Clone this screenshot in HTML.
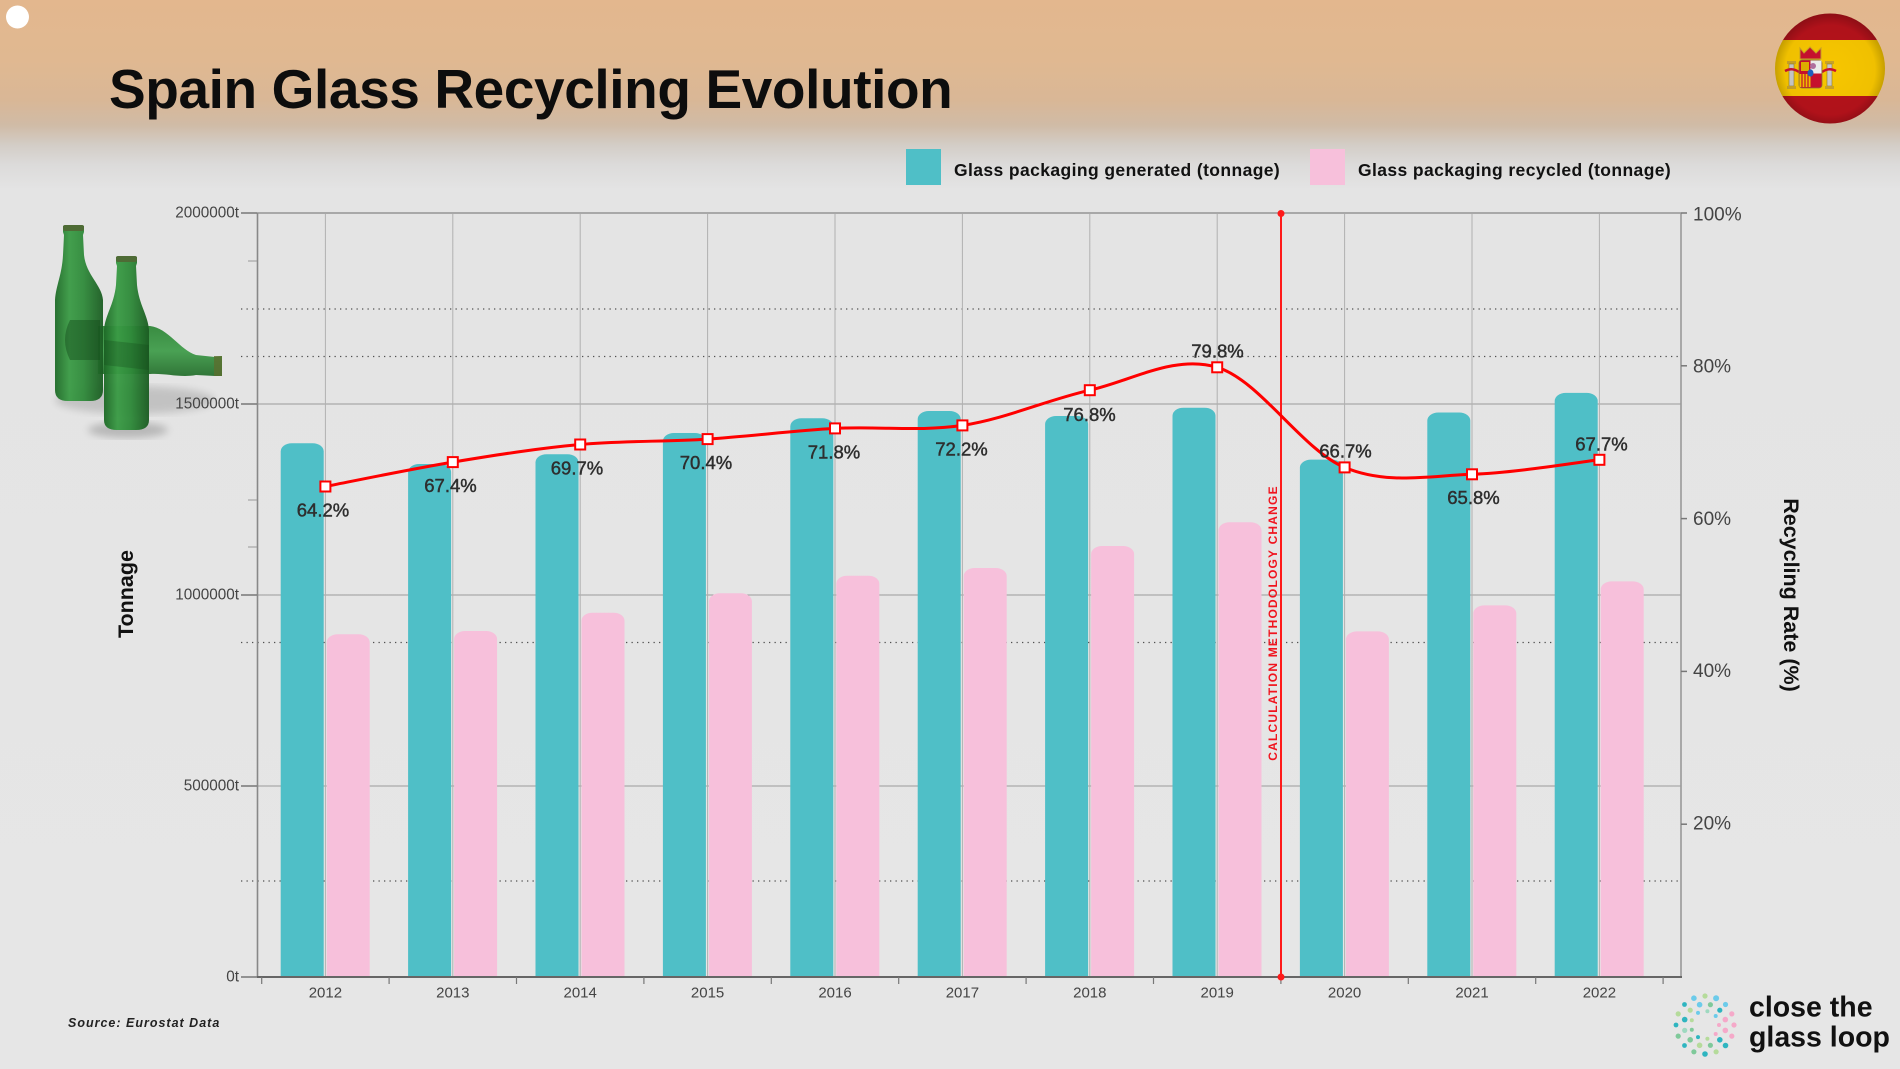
<!DOCTYPE html>
<html>
<head>
<meta charset="utf-8">
<style>
  html,body{margin:0;padding:0;}
  body{width:1900px;height:1069px;overflow:hidden;
    background:linear-gradient(to bottom,#E3B78E 0px,#E0B891 60px,#D9B796 100px,#D0BBA6 125px,#D3CDC6 145px,#DCDBDA 165px,#E4E4E4 190px,#E6E6E6 100%);
    font-family:"Liberation Sans",Arial,sans-serif;}
  svg{position:absolute;left:0;top:0;}
</style>
</head>
<body>
<svg width="1900" height="1069" viewBox="0 0 1900 1069" xmlns="http://www.w3.org/2000/svg" font-family="Liberation Sans, Arial, sans-serif">
  <defs>
    <clipPath id="plotclip"><rect x="0" y="0" width="1900" height="977"/></clipPath>
    <clipPath id="flagclip"><circle cx="1830" cy="68.5" r="55"/></clipPath>
    <radialGradient id="flagshade" cx="50%" cy="50%" r="50%">
      <stop offset="0%" stop-color="#000" stop-opacity="0"/>
      <stop offset="75%" stop-color="#000" stop-opacity="0.03"/>
      <stop offset="100%" stop-color="#000" stop-opacity="0.28"/>
    </radialGradient>
    <linearGradient id="glassH" x1="0" y1="0" x2="1" y2="0">
      <stop offset="0" stop-color="#1E6A27"/>
      <stop offset="0.3" stop-color="#3A9B45"/>
      <stop offset="0.6" stop-color="#2F8A3A"/>
      <stop offset="1" stop-color="#1B5C22"/>
    </linearGradient>
    <linearGradient id="glassV" x1="0" y1="0" x2="0" y2="1">
      <stop offset="0" stop-color="#2A8433"/>
      <stop offset="0.5" stop-color="#3C9B47"/>
      <stop offset="1" stop-color="#216C29"/>
    </linearGradient>
    <filter id="blur4"><feGaussianBlur stdDeviation="4"/></filter>
  </defs>

  <!-- top-left white dot -->
  <circle cx="17.5" cy="17" r="11.5" fill="#ffffff"/>

  <!-- Title -->
  <text x="109" y="108" font-size="55" font-weight="bold" fill="#0d0d0d" letter-spacing="-0.4">Spain Glass Recycling Evolution</text>

  <!-- Flag -->
  <g clip-path="url(#flagclip)">
    <rect x="1770" y="10" width="120" height="31" fill="#B5121B"/>
    <rect x="1770" y="40" width="120" height="57" fill="#F7C600"/>
    <rect x="1770" y="96" width="120" height="32" fill="#B5121B"/>
    <rect x="1787" y="61" width="9" height="3" fill="#C9A227"/>
    <rect x="1789" y="64" width="5" height="22" fill="#C8C8C8" stroke="#8a7a30" stroke-width="0.6"/>
    <rect x="1787" y="86" width="9" height="3" fill="#C9A227"/>
    <rect x="1825" y="61" width="9" height="3" fill="#C9A227"/>
    <rect x="1827" y="64" width="5" height="22" fill="#C8C8C8" stroke="#8a7a30" stroke-width="0.6"/>
    <rect x="1825" y="86" width="9" height="3" fill="#C9A227"/>
    <path d="M1785,71 Q1792,67 1799,72 M1822,72 Q1829,67 1836,71" stroke="#C8102E" stroke-width="2.5" fill="none"/>
    <path d="M1800,48 L1804,53 L1810,47 L1816,53 L1821,48 L1821,59 L1800,59 Z" fill="#C8102E" stroke="#C9A227" stroke-width="1"/>
    <rect x="1799" y="60" width="23" height="28" rx="3" fill="#C8102E" stroke="#8a7a30" stroke-width="0.8"/>
    <rect x="1810.5" y="60.5" width="11" height="13" fill="#EDEDED"/>
    <rect x="1799.5" y="74" width="11" height="13" fill="#F0C000"/>
    <path d="M1802,74V87M1805,74V87M1808,74V87" stroke="#C8102E" stroke-width="1.2"/>
    <rect x="1801" y="62" width="8" height="9" fill="#E0B000"/>
    <circle cx="1813" cy="66" r="3" fill="#B06FA0"/>
    <ellipse cx="1810.5" cy="73" rx="3" ry="3.6" fill="#1F5FBF"/>
    <rect x="1770" y="10" width="120" height="120" fill="url(#flagshade)"/>
  </g>

  <!-- Legend -->
  <rect x="906" y="149" width="35" height="36" fill="#4FBFC7"/>
  <text x="954" y="176" font-size="17.5" font-weight="bold" fill="#111" letter-spacing="0.4">Glass packaging generated (tonnage)</text>
  <rect x="1310" y="149" width="35" height="36" fill="#F7C0DB"/>
  <text x="1358" y="176" font-size="17.5" font-weight="bold" fill="#111" letter-spacing="0.4">Glass packaging recycled (tonnage)</text>

  <!-- Bottles -->
  <g>
    <ellipse cx="135" cy="400" rx="80" ry="14" fill="#9a9a9a" opacity="0.45" filter="url(#blur4)"/>
    <ellipse cx="128" cy="430" rx="40" ry="8" fill="#8a8a8a" opacity="0.5" filter="url(#blur4)"/>
    <path d="M98,326 H150 C168,328 180,350 196,355 L215,357 L222,356 V376 L215,376 L196,375 C180,378 166,373 150,374 H98 Z" fill="url(#glassV)" opacity="0.92"/>
    <rect x="214" y="356" width="8" height="20" fill="#5B6E2E" opacity="0.8"/>
    <path d="M63,226 H84 V232 L83,235 L84,255 C86,275 102,285 103,300 V390 Q103,401 90,401 H68 Q55,401 55,390 V300 C56,285 62,275 63,255 L64,235 L63,232 Z" fill="url(#glassH)" opacity="0.95"/>
    <rect x="63" y="225" width="21" height="6" rx="2" fill="#4E6B35"/>
    <path d="M70,320 Q60,340 70,360 L100,360 L100,320 Z" fill="#154A1A" opacity="0.45"/>
    <path d="M116,257 H137 V263 L136,266 L137,285 C139,305 148,315 149,330 V420 Q149,430 136,430 H117 Q104,430 104,420 V330 C105,315 114,305 116,285 L117,266 L116,263 Z" fill="url(#glassH)" opacity="0.96"/>
    <rect x="116" y="256" width="21" height="6" rx="2" fill="#4E6B35"/>
    <path d="M104,340 L149,345 L149,370 L104,365 Z" fill="#154A1A" opacity="0.3"/>
  </g>

  <!-- Horizontal gridlines -->
  <g stroke="#9a9a9a" stroke-width="1">
    <line x1="257" y1="404" x2="1681" y2="404"/>
    <line x1="257" y1="595" x2="1681" y2="595"/>
    <line x1="257" y1="786" x2="1681" y2="786"/>
  </g>
  <g stroke="#505050" stroke-width="1.3" stroke-dasharray="1.3 4.2">
    <line x1="241" y1="309" x2="1681" y2="309"/>
    <line x1="241" y1="356.5" x2="1681" y2="356.5"/>
    <line x1="241" y1="642.5" x2="1681" y2="642.5"/>
    <line x1="241" y1="881" x2="1681" y2="881"/>
  </g>
  <g stroke="#b0b0b0" stroke-width="1">
    <line x1="325.4" y1="213" x2="325.4" y2="977"/>
    <line x1="452.8" y1="213" x2="452.8" y2="977"/>
    <line x1="580.2" y1="213" x2="580.2" y2="977"/>
    <line x1="707.6" y1="213" x2="707.6" y2="977"/>
    <line x1="835" y1="213" x2="835" y2="977"/>
    <line x1="962.4" y1="213" x2="962.4" y2="977"/>
    <line x1="1089.8" y1="213" x2="1089.8" y2="977"/>
    <line x1="1217.2" y1="213" x2="1217.2" y2="977"/>
    <line x1="1344.6" y1="213" x2="1344.6" y2="977"/>
    <line x1="1472" y1="213" x2="1472" y2="977"/>
    <line x1="1599.4" y1="213" x2="1599.4" y2="977"/>
  </g>
  <line x1="257" y1="213" x2="1681" y2="213" stroke="#a8a8a8" stroke-width="2"/>

  <!-- Bars -->
  <g clip-path="url(#plotclip)">
    <g fill="#4FBFC7">
      <rect x="280.7" y="443.3" width="43" height="545" rx="11" ry="8"/>
      <rect x="408.1" y="464" width="43" height="525" rx="11" ry="8"/>
      <rect x="535.5" y="454.3" width="43" height="535" rx="11" ry="8"/>
      <rect x="662.9" y="433" width="43" height="556" rx="11" ry="8"/>
      <rect x="790.3" y="418.3" width="43" height="571" rx="11" ry="8"/>
      <rect x="917.7" y="411" width="43" height="578" rx="11" ry="8"/>
      <rect x="1045.1" y="416" width="43" height="573" rx="11" ry="8"/>
      <rect x="1172.5" y="407.7" width="43" height="581" rx="11" ry="8"/>
      <rect x="1299.9" y="459.6" width="43" height="529" rx="11" ry="8"/>
      <rect x="1427.3" y="412.5" width="43" height="576" rx="11" ry="8"/>
      <rect x="1554.7" y="392.9" width="43" height="596" rx="11" ry="8"/>
    </g>
    <g fill="#F7C0DB">
      <rect x="326.7" y="634.3" width="43" height="355" rx="11" ry="8"/>
      <rect x="454.1" y="631" width="43" height="358" rx="11" ry="8"/>
      <rect x="581.5" y="612.7" width="43" height="376" rx="11" ry="8"/>
      <rect x="708.9" y="593.3" width="43" height="396" rx="11" ry="8"/>
      <rect x="836.3" y="575.7" width="43" height="413" rx="11" ry="8"/>
      <rect x="963.7" y="568" width="43" height="421" rx="11" ry="8"/>
      <rect x="1091.1" y="546" width="43" height="443" rx="11" ry="8"/>
      <rect x="1218.5" y="522.3" width="43" height="467" rx="11" ry="8"/>
      <rect x="1345.9" y="631.4" width="43" height="358" rx="11" ry="8"/>
      <rect x="1473.3" y="605.4" width="43" height="384" rx="11" ry="8"/>
      <rect x="1600.7" y="581.4" width="43" height="408" rx="11" ry="8"/>
    </g>
  </g>

  <!-- Axes -->
  <line x1="257.5" y1="213" x2="257.5" y2="977" stroke="#888" stroke-width="1.6"/>
  <line x1="1681" y1="213" x2="1681" y2="977" stroke="#999" stroke-width="1.6"/>
  <line x1="257" y1="977" x2="1682" y2="977" stroke="#666" stroke-width="2"/>
  <g stroke="#777" stroke-width="1.5">
    <line x1="241" y1="213" x2="257" y2="213"/>
    <line x1="241" y1="404" x2="257" y2="404"/>
    <line x1="241" y1="595" x2="257" y2="595"/>
    <line x1="241" y1="786" x2="257" y2="786"/>
    <line x1="241" y1="977" x2="257" y2="977"/>
    <line x1="1681" y1="213" x2="1687" y2="213"/>
    <line x1="1681" y1="365.8" x2="1687" y2="365.8"/>
    <line x1="1681" y1="518.6" x2="1687" y2="518.6"/>
    <line x1="1681" y1="671.4" x2="1687" y2="671.4"/>
    <line x1="1681" y1="824.2" x2="1687" y2="824.2"/>
  </g>
  <g stroke="#999" stroke-width="1">
    <line x1="248" y1="261" x2="257" y2="261"/>
    <line x1="248" y1="500" x2="257" y2="500"/>
    <line x1="248" y1="547" x2="257" y2="547"/>
  </g>
  <g stroke="#777" stroke-width="1.2">
    <line x1="261.7" y1="977" x2="261.7" y2="984"/>
    <line x1="389.1" y1="977" x2="389.1" y2="984"/>
    <line x1="516.5" y1="977" x2="516.5" y2="984"/>
    <line x1="643.9" y1="977" x2="643.9" y2="984"/>
    <line x1="771.3" y1="977" x2="771.3" y2="984"/>
    <line x1="898.7" y1="977" x2="898.7" y2="984"/>
    <line x1="1026.1" y1="977" x2="1026.1" y2="984"/>
    <line x1="1153.5" y1="977" x2="1153.5" y2="984"/>
    <line x1="1280.9" y1="977" x2="1280.9" y2="984"/>
    <line x1="1408.3" y1="977" x2="1408.3" y2="984"/>
    <line x1="1535.7" y1="977" x2="1535.7" y2="984"/>
    <line x1="1663.1" y1="977" x2="1663.1" y2="984"/>
  </g>

  <!-- Left axis labels -->
  <g font-size="15.3" fill="#444" text-anchor="end" dominant-baseline="central">
    <text x="239" y="213">2000000t</text>
    <text x="239" y="404">1500000t</text>
    <text x="239" y="595">1000000t</text>
    <text x="239" y="786">500000t</text>
    <text x="239" y="977">0t</text>
  </g>
  <g font-size="19" fill="#444" dominant-baseline="central">
    <text x="1693" y="215">100%</text>
    <text x="1693" y="367">80%</text>
    <text x="1693" y="519.5">60%</text>
    <text x="1693" y="671.5">40%</text>
    <text x="1693" y="824">20%</text>
  </g>
  <g font-size="15" fill="#444" text-anchor="middle" dominant-baseline="central">
    <text x="325.4" y="993">2012</text>
    <text x="452.8" y="993">2013</text>
    <text x="580.2" y="993">2014</text>
    <text x="707.6" y="993">2015</text>
    <text x="835" y="993">2016</text>
    <text x="962.4" y="993">2017</text>
    <text x="1089.8" y="993">2018</text>
    <text x="1217.2" y="993">2019</text>
    <text x="1344.6" y="993">2020</text>
    <text x="1472" y="993">2021</text>
    <text x="1599.4" y="993">2022</text>
  </g>

  <!-- Axis titles -->
  <text x="126" y="594" font-size="21.5" font-weight="bold" fill="#111" text-anchor="middle" dominant-baseline="central" transform="rotate(-90 126 594)">Tonnage</text>
  <text x="1791" y="595" font-size="21.5" font-weight="bold" fill="#111" text-anchor="middle" dominant-baseline="central" transform="rotate(90 1791 595)">Recycling Rate (%)</text>

  <!-- Methodology change line -->
  <line x1="1281" y1="213" x2="1281" y2="977" stroke="#FF1A1A" stroke-width="2"/>
  <circle cx="1281" cy="213.5" r="3.5" fill="#FF1A1A"/>
  <circle cx="1281" cy="977" r="3.5" fill="#FF1A1A"/>
  <text x="1273" y="623" font-size="12" font-weight="bold" fill="#F0141E" letter-spacing="1.2" text-anchor="middle" dominant-baseline="central" transform="rotate(-90 1273 623)">CALCULATION METHODOLOGY CHANGE</text>

  <!-- Rate line -->
  <path d="M325.4,486.5 C346.6,482.4 410.3,469.1 452.8,462.1 C495.3,455.1 537.7,448.3 580.2,444.5 C622.7,440.7 665.1,441.8 707.6,439.1 C750.1,436.4 792.5,430.7 835,428.4 C877.5,426.1 919.9,431.8 962.4,425.4 C1004.9,419 1047.3,399.9 1089.8,390.2 C1132.3,380.5 1174.7,354.4 1217.2,367.3 C1259.7,380.2 1302.1,449.6 1344.6,467.4 C1387.1,485.2 1429.5,475.6 1472,474.3 C1514.5,473 1578.2,462.2 1599.4,459.8" fill="none" stroke="#FF0000" stroke-width="3"/>
  <g fill="#ffffff" stroke="#FF0000" stroke-width="2">
    <rect x="320.4" y="481.5" width="10" height="10"/>
    <rect x="447.8" y="457.1" width="10" height="10"/>
    <rect x="575.2" y="439.5" width="10" height="10"/>
    <rect x="702.6" y="434.1" width="10" height="10"/>
    <rect x="830" y="423.4" width="10" height="10"/>
    <rect x="957.4" y="420.4" width="10" height="10"/>
    <rect x="1084.8" y="385.2" width="10" height="10"/>
    <rect x="1212.2" y="362.3" width="10" height="10"/>
    <rect x="1339.6" y="462.4" width="10" height="10"/>
    <rect x="1467" y="469.3" width="10" height="10"/>
    <rect x="1594.4" y="454.8" width="10" height="10"/>
  </g>
  <g font-size="18.5" fill="#2e2e2e" stroke="#2e2e2e" stroke-width="0.45" text-anchor="middle" dominant-baseline="central">
    <text x="323" y="510">64.2%</text>
    <text x="450.5" y="485.5">67.4%</text>
    <text x="577" y="468">69.7%</text>
    <text x="706" y="462.6">70.4%</text>
    <text x="834" y="451.9">71.8%</text>
    <text x="961.5" y="448.9">72.2%</text>
    <text x="1089.5" y="414.5">76.8%</text>
    <text x="1217.5" y="351">79.8%</text>
    <text x="1345.5" y="451">66.7%</text>
    <text x="1473.5" y="497.5">65.8%</text>
    <text x="1601.5" y="444">67.7%</text>
  </g>

  <!-- Source -->
  <text x="68" y="1027" font-size="12.5" font-weight="bold" font-style="italic" fill="#222" letter-spacing="1">Source: Eurostat Data</text>

  <!-- Logo dots -->
  <g>
    <circle cx="1734" cy="1025" r="2.6" fill="#F5A9C9"/>
    <circle cx="1731.8" cy="1036.1" r="2.6" fill="#F5A9C9"/>
    <circle cx="1725.5" cy="1045.5" r="2.8" fill="#2FB5C0"/>
    <circle cx="1716.1" cy="1051.8" r="2.6" fill="#B5DB9B"/>
    <circle cx="1705" cy="1054" r="2.8" fill="#2FB5C0"/>
    <circle cx="1693.9" cy="1051.8" r="2.6" fill="#7FC99A"/>
    <circle cx="1684.5" cy="1045.5" r="2.4" fill="#2FB5C0"/>
    <circle cx="1678.2" cy="1036.1" r="2.6" fill="#7FC99A"/>
    <circle cx="1676" cy="1025" r="2.4" fill="#2FB5C0"/>
    <circle cx="1678.2" cy="1013.9" r="2.6" fill="#B5DB9B"/>
    <circle cx="1684.5" cy="1004.5" r="2.4" fill="#2FB5C0"/>
    <circle cx="1693.9" cy="998.2" r="2.8" fill="#6CCBEA"/>
    <circle cx="1705" cy="996" r="2.6" fill="#B5DB9B"/>
    <circle cx="1716.1" cy="998.2" r="3" fill="#6CCBEA"/>
    <circle cx="1725.5" cy="1004.5" r="2.6" fill="#6CCBEA"/>
    <circle cx="1731.8" cy="1013.9" r="2.6" fill="#F5A9C9"/>
    <circle cx="1725.3" cy="1030.4" r="2.8" fill="#F5A9C9"/>
    <circle cx="1719.8" cy="1039.8" r="2.8" fill="#2FB5C0"/>
    <circle cx="1710.4" cy="1045.3" r="2.6" fill="#7FC99A"/>
    <circle cx="1699.6" cy="1045.3" r="2.8" fill="#B5DB9B"/>
    <circle cx="1690.2" cy="1039.8" r="2.8" fill="#7FC99A"/>
    <circle cx="1684.7" cy="1030.4" r="2.6" fill="#9ED9C0"/>
    <circle cx="1684.7" cy="1019.6" r="2.8" fill="#2FB5C0"/>
    <circle cx="1690.2" cy="1010.2" r="2.6" fill="#B5DB9B"/>
    <circle cx="1699.6" cy="1004.7" r="2.8" fill="#6CCBEA"/>
    <circle cx="1710.4" cy="1004.7" r="2.6" fill="#7FC99A"/>
    <circle cx="1719.8" cy="1010.2" r="2.6" fill="#2FB5C0"/>
    <circle cx="1725.3" cy="1019.6" r="2.8" fill="#F5A9C9"/>
    <circle cx="1719" cy="1025" r="2" fill="#F5A9C9"/>
    <circle cx="1715.7" cy="1034" r="2" fill="#F5A9C9"/>
    <circle cx="1707.4" cy="1038.8" r="2" fill="#B5DB9B"/>
    <circle cx="1698" cy="1037.1" r="2" fill="#2FB5C0"/>
    <circle cx="1691.8" cy="1029.8" r="2" fill="#7FC99A"/>
    <circle cx="1691.8" cy="1020.2" r="2" fill="#B5DB9B"/>
    <circle cx="1698" cy="1012.9" r="2" fill="#6CCBEA"/>
    <circle cx="1707.4" cy="1011.2" r="2" fill="#9ED9C0"/>
    <circle cx="1715.7" cy="1016" r="2" fill="#6CCBEA"/>
  </g>
  <text x="1749" y="1016.7" font-size="28.5" font-weight="bold" fill="#111">close the</text>
  <text x="1749" y="1046.7" font-size="28.5" font-weight="bold" fill="#111">glass loop</text>
</svg>
</body>
</html>
